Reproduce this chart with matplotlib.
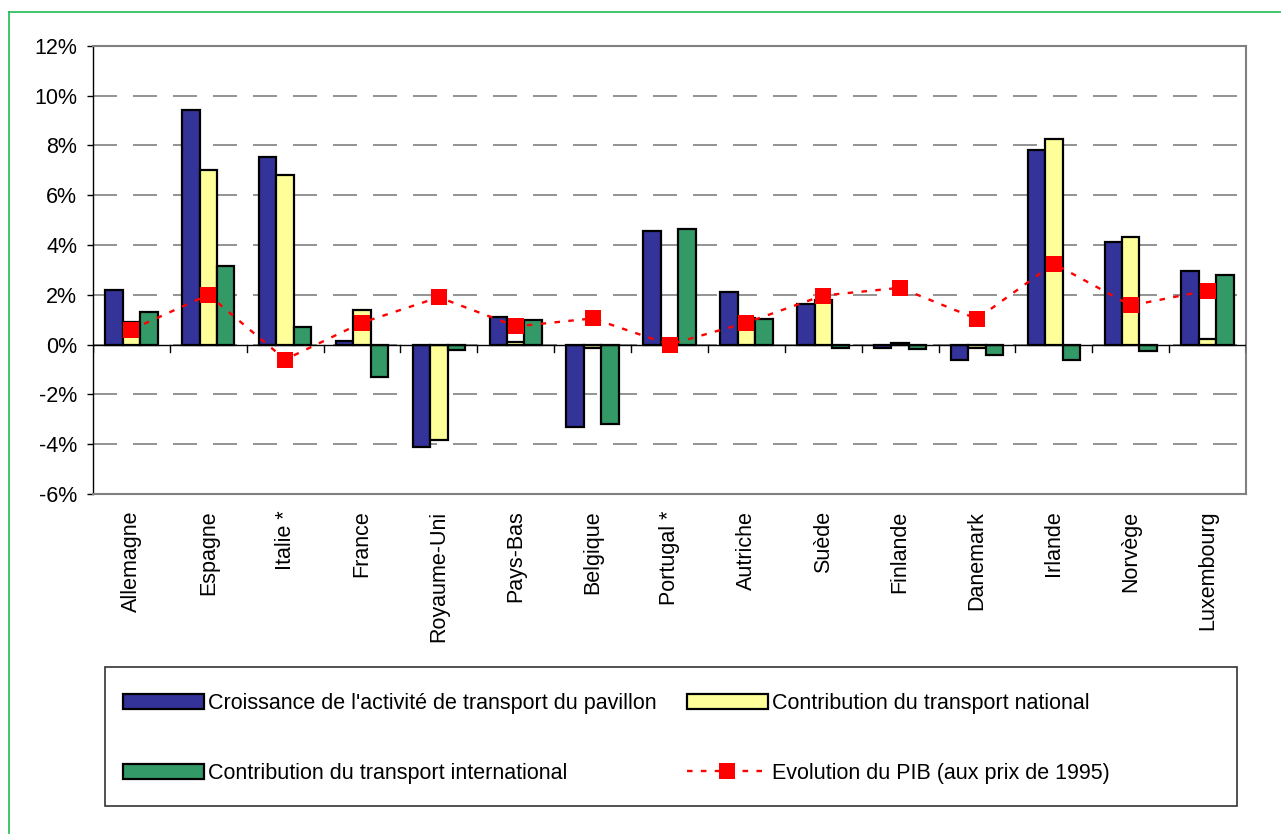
import numpy as np
import matplotlib
matplotlib.use("Agg")
import matplotlib.pyplot as plt
from matplotlib.patches import Rectangle, Patch
from matplotlib.lines import Line2D

plt.rcParams["font.family"] = ["Liberation Sans", "DejaVu Sans"]
plt.rcParams["font.size"] = 15.5
plt.rcParams["lines.scale_dashes"] = False

countries = ["Allemagne", "Espagne", "Italie *", "France", "Royaume-Uni", "Pays-Bas",
             "Belgique", "Portugal *", "Autriche", "Suède", "Finlande", "Danemark",
             "Irlande", "Norvège", "Luxembourg"]
croissance = [2.2, 9.4, 7.55, 0.15, -4.1, 1.1, -3.32, 4.54, 2.1, 1.63, -0.12, -0.6, 7.83, 4.1, 2.97]
national = [0.9, 7.0, 6.82, 1.37, -3.82, 0.1, -0.12, 0.0, 1.05, 1.8, 0.08, -0.15, 8.27, 4.3, 0.23]
international = [1.3, 3.17, 0.72, -1.31, -0.22, 1.0, -3.2, 4.66, 1.04, -0.12, -0.18, -0.43, -0.6, -0.24, 2.78]
pib = [0.6, 2.0, -0.6, 0.88, 1.9, 0.73, 1.05, 0.0, 0.88, 1.97, 2.28, 1.03, 3.25, 1.57, 2.17]

labels = ["Croissance de l'activité de transport du pavillon",
          "Contribution du transport national",
          "Contribution du transport international",
          "Evolution du PIB (aux prix de 1995)"]
c_blue, c_yellow, c_green, c_red = "#333399", "#FFFF99", "#339966", "#FF0000"

W, H = 1281, 834
fig = plt.figure(figsize=(W/100, H/100), dpi=100)
ax = fig.add_axes([93/W, 1-494/H, (1246-93)/W, (494-45.7)/H])

x = np.arange(len(countries))
bw = 0.227
ax.bar(x-bw, croissance, bw, color=c_blue, edgecolor="black", linewidth=1.6, zorder=3)
ax.bar(x, national, bw, color=c_yellow, edgecolor="black", linewidth=1.6, zorder=3)
ax.bar(x+bw, international, bw, color=c_green, edgecolor="black", linewidth=1.6, zorder=3)
ax.plot(x, pib, color=c_red, lw=1.7, linestyle=(0, (4, 6)), marker="s", markersize=12,
        markeredgewidth=0, zorder=5)

ax.set_xlim(-0.5, len(countries)-0.5)
ax.set_ylim(-6, 12)
ax.set_yticks(np.arange(-6, 13, 2))
ax.set_yticklabels([f"{v}%" for v in range(-6, 13, 2)])
ax.yaxis.grid(True, color="#808080", lw=1.2, linestyle=(0, (17.3, 11.5)))
ax.set_axisbelow(True)

ax.axhline(0, color="black", lw=1, zorder=4)
for b in np.arange(len(countries)+1)-0.5:
    ax.plot([b, b], [0, -0.28], color="black", lw=1, zorder=4)

ax.set_xticks(x)
ax.set_xticklabels(countries, rotation=90)
ax.tick_params(axis="x", length=0, pad=12)
ax.tick_params(axis="y", length=4.3, width=1, pad=7, direction="out")

for s in ["top", "right", "bottom"]:
    ax.spines[s].set_color("#808080")
    ax.spines[s].set_linewidth(1.5)
ax.spines["left"].set_color("black")
ax.spines["left"].set_linewidth(1)

handles = [Patch(facecolor=c_blue, edgecolor="black", lw=1.6),
           Patch(facecolor=c_green, edgecolor="black", lw=1.6),
           Patch(facecolor=c_yellow, edgecolor="black", lw=1.6),
           Line2D([], [], color=c_red, lw=1.7, linestyle=(0, (4, 6)), marker="s",
                  markersize=12, markeredgewidth=0)]
fig.legend(handles, [labels[0], labels[2], labels[1], labels[3]], ncol=2,
           loc="upper left", bbox_to_anchor=(123/W, 1-693/H), frameon=False,
           borderpad=0, borderaxespad=0, handlelength=3.75, handleheight=0.7,
           handletextpad=0.19, labelspacing=2.26, columnspacing=1.42)
fig.patches.append(Rectangle((105/W, 1-806/H), (1237-105)/W, (806-667)/H,
                             transform=fig.transFigure, fill=False,
                             edgecolor="#333333", lw=1.2))

fig.add_artist(Line2D([9/W, 9/W], [0, 1-12/H], color="#22BB55", lw=1.2, transform=fig.transFigure))
fig.add_artist(Line2D([9/W, 1], [1-12/H, 1-12/H], color="#22BB55", lw=1.2, transform=fig.transFigure))

fig.savefig("out.png", dpi=100)
